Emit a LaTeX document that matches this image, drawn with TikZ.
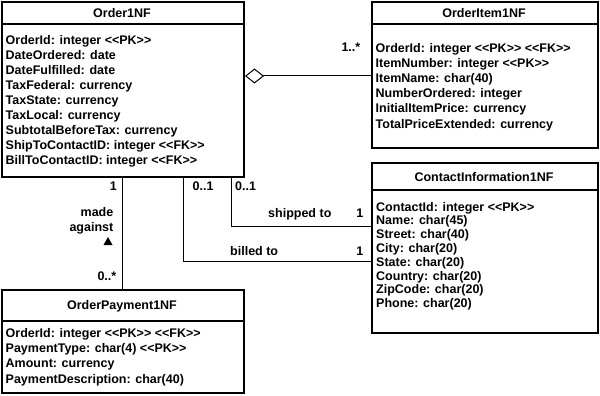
\documentclass[tikz,border=0pt]{standalone}
\usepackage{fontspec}
\setmainfont{Liberation Sans}
\usetikzlibrary{arrows.meta}
\begin{document}
\begin{tikzpicture}[x=1pt,y=-1pt,
  tbl/.style={draw, line width=2pt, inner sep=0pt, anchor=north west},
  hdr/.style={line width=2pt},
  ttl/.style={font=\bfseries\fontsize{12.5}{15}\selectfont, anchor=base, inner sep=0pt},
  attrs/.style={font=\bfseries\fontsize{12.5}{#1}\selectfont, align=left, anchor=north west, inner sep=0pt},
  lbl/.style={font=\bfseries\fontsize{12.5}{15}\selectfont, inner sep=0pt},
  conn/.style={line width=1pt},
]
\useasboundingbox (0,0) rectangle (600,396);
\fill[white] (0,0) rectangle (600,396);

% class boxes
\node[tbl, minimum width=242pt, minimum height=175pt] (order) at (1,1) {};
\node[tbl, minimum width=226pt, minimum height=146pt] (item) at (371,1) {};
\node[tbl, minimum width=226pt, minimum height=170pt] (contact) at (371,162) {};
\node[tbl, minimum width=242pt, minimum height=103pt] (payment) at (1,289) {};

% header separators
\draw[hdr] ([yshift=-23pt]order.north west) -- ([yshift=-23pt]order.north east);
\draw[hdr] ([yshift=-23pt]item.north west) -- ([yshift=-23pt]item.north east);
\draw[hdr] ([yshift=-28pt]contact.north west) -- ([yshift=-28pt]contact.north east);
\draw[hdr] ([yshift=-32pt]payment.north west) -- ([yshift=-32pt]payment.north east);

% class names
\node[ttl] (ordertitle) at (122,17.3) {Order1NF};
\node[ttl] (itemtitle) at (484,17.3) {OrderItem1NF};
\node[ttl] (contacttitle) at (484,181) {ContactInformation1NF};
\node[ttl] (paymenttitle) at (122,309.3) {OrderPayment1NF};

% attributes
\node[attrs=15.1] (orderattrs) at (5.5,34.9) {OrderId: integer <{}<PK>{}>\\DateOrdered: date\\DateFulfilled: date\\TaxFederal: currency\\TaxState: currency\\TaxLocal: currency\\SubtotalBeforeTax: currency\\ShipToContactID: integer <{}<FK>{}>\\BillToContactID: integer <{}<FK>{}>};
\node[attrs=15.2] (itemattrs) at (375.5,42.9) {OrderId: integer <{}<PK>{}> <{}<FK>{}>\\ItemNumber: integer <{}<PK>{}>\\ItemName: char(40)\\NumberOrdered: integer\\InitialItemPrice: currency\\TotalPriceExtended: currency};
\node[attrs=13.8] (contactattrs) at (376,201.9) {ContactId: integer <{}<PK>{}>\\Name: char(45)\\Street: char(40)\\City: char(20)\\State: char(20)\\Country: char(20)\\ZipCode: char(20)\\Phone: char(20)};
\node[attrs=15.3] (paymentattrs) at (5.5,327.9) {OrderId: integer <{}<PK>{}> <{}<FK>{}>\\PaymentType: char(4) <{}<PK>{}>\\Amount: currency\\PaymentDescription: char(40)};

% connector routing points
\coordinate (aggy) at (0,76);
\coordinate (madex) at (122,0);
\coordinate (shipx) at (231,0);
\coordinate (shipy) at (0,226);
\coordinate (billx) at (183,0);
\coordinate (billy) at (0,261);

% aggregation Order1NF <>-- OrderItem1NF
\draw[conn, {Diamond[open,length=19pt,width=15pt]}-] (order.east |- aggy) -- (item.west |- aggy);
\node[lbl, anchor=base east] (aggmult) at (360.5,52) {1..*};

% payment association
\draw[conn] (order.south -| madex) -- (payment.north -| madex);
\node[lbl, anchor=base east] (paymultorder) at (117,190) {1};
\node[lbl, anchor=base east] (made) at (113.5,216) {made};
\node[lbl, anchor=base east] (against) at (113.5,231.5) {against};
\fill (103.5,245) -- (112.5,245) -- (108,237) -- cycle;
\node[lbl, anchor=base east] (paymultpay) at (116.5,280) {0..*};

% shipping and billing associations
\draw[conn] (order.south -| shipx) |- (contact.west |- shipy);
\draw[conn] (order.south -| billx) |- (contact.west |- billy);
\node[lbl, anchor=base west] (billmultorder) at (192.5,190) {0..1};
\node[lbl, anchor=base west] (shipmultorder) at (235,190) {0..1};
\node[lbl, anchor=base west] (shipped) at (268,217.5) {shipped to};
\node[lbl, anchor=base east] (shipmultcontact) at (363.5,217.5) {1};
\node[lbl, anchor=base west] (billed) at (230,255.5) {billed to};
\node[lbl, anchor=base east] (billmultcontact) at (363.5,255.5) {1};
\end{tikzpicture}
\end{document}
